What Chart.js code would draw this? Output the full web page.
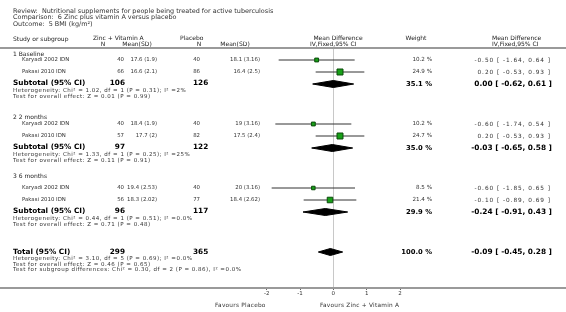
<!DOCTYPE html>
<html><head><meta charset="utf-8">
<script src="https://cdn.jsdelivr.net/npm/chart.js@4.4.1/dist/chart.umd.min.js"></script>
<style>html,body{margin:0;padding:0;background:#fff;}#wrap{width:566px;height:312px;position:relative;}</style>
</head><body><div id="wrap"><canvas id="c" width="566" height="312"></canvas></div>
<script>
// ---------------- DATA ----------------
const titleLines = ['Review:  Nutritional supplements for people being treated for active tuberculosis',
  'Comparison:  6 Zinc plus vitamin A versus placebo', 'Outcome:  5 BMI (kg/m²)'];
const groups = ['1 Baseline', '2 2 months', '3 6 months'];
const studies = ['Karyadi 2002 IDN', 'Pakasi 2010 IDN'];
const zincN = [[40, 66], [40, 57], [40, 56]];
const zincMeanSD = [['17.6 (1.9)', '16.6 (2.1)'], ['18.4 (1.9)', '17.7 (2)'], ['19.4 (2.53)', '18.3 (2.02)']];
const placeboN = [[40, 86], [40, 82], [40, 77]];
const placeboMeanSD = [['18.1 (3.16)', '16.4 (2.5)'], ['19 (3.16)', '17.5 (2.4)'], ['20 (3.16)', '18.4 (2.62)']];
const studyMD = [[-0.50, 0.20], [-0.60, 0.20], [-0.60, -0.10]];
const studyLo = [[-1.64, -0.53], [-1.74, -0.53], [-1.85, -0.89]];
const studyHi = [[0.64, 0.93], [0.54, 0.93], [0.65, 0.69]];
const studyWeight = [[10.2, 24.9], [10.2, 24.7], [8.5, 21.4]];
const subN = [[106, 126], [97, 122], [96, 117]];
const subMD = [0.00, -0.03, -0.24];
const subLo = [-0.62, -0.65, -0.91];
const subHi = [0.61, 0.58, 0.43];
const subWeight = [35.1, 35.0, 29.9];
const subHet = ['Heterogeneity: Chi² = 1.02, df = 1 (P = 0.31); I² =2%',
  'Heterogeneity: Chi² = 1.33, df = 1 (P = 0.25); I² =25%',
  'Heterogeneity: Chi² = 0.44, df = 1 (P = 0.51); I² =0.0%'];
const subTest = ['Test for overall effect: Z = 0.01 (P = 0.99)',
  'Test for overall effect: Z = 0.11 (P = 0.91)',
  'Test for overall effect: Z = 0.71 (P = 0.48)'];
const totalN = [299, 365];
const totalMD = -0.09, totalLo = -0.45, totalHi = 0.28, totalWeight = 100.0;
const totalNotes = ['Heterogeneity: Chi² = 3.10, df = 5 (P = 0.69); I² =0.0%',
  'Test for overall effect: Z = 0.46 (P = 0.65)',
  'Test for subgroup differences: Chi² = 0.30, df = 2 (P = 0.86), I² =0.0%'];
const xTicks = [-2, -1, 0, 1, 2];
const favoursLeft = 'Favours Placebo', favoursRight = 'Favours Zinc + Vitamin A';

// ---------------- LAYOUT (row units, 1 row = 12px) ----------------
const ROW_PX = 12, GROUP_GAP = 40 / ROW_PX, FIRST_ROW = 1;
const GROUP_LABEL_DY = [-6, -6.5, -12];
const rowsStudy = [], rowsSub = [];
let r = FIRST_ROW;
groups.forEach((g, gi) => {
  rowsStudy.push(studies.map((s, si) => r + si));
  rowsSub.push(r + studies.length);
  r = r + studies.length + GROUP_GAP;
});
const rowTotal = r;
const DIAMOND_H = 3.5 / ROW_PX;

const fmt = v => v.toFixed(2);
const ciText = (m, l, h) => `${fmt(m)} [ ${fmt(l)}, ${fmt(h)} ]`;

// ---------------- DATASETS ----------------
const datasets = [];
groups.forEach((g, gi) => {
  studies.forEach((s, si) => {
    datasets.push({ type: 'line', data: [{ x: studyLo[gi][si], y: rowsStudy[gi][si] }, { x: studyHi[gi][si], y: rowsStudy[gi][si] }],
      borderColor: '#333', borderWidth: 1, pointRadius: 0, fill: false, order: 2 });
  });
});
const sqPts = [], sqR = [];
groups.forEach((g, gi) => studies.forEach((s, si) => {
  sqPts.push({ x: studyMD[gi][si], y: rowsStudy[gi][si] });
  sqR.push(0.85 * Math.sqrt(studyWeight[gi][si]));
}));
datasets.push({ type: 'scatter', data: sqPts, pointStyle: 'rect', pointRadius: sqR, pointHoverRadius: sqR,
  backgroundColor: '#17a017', borderColor: '#0b4a0b', borderWidth: 1, order: 1 });
function diamond(m, l, h, y) {
  return { type: 'line', data: [{ x: l, y: y }, { x: m, y: y - DIAMOND_H }, { x: h, y: y }, { x: m, y: y + DIAMOND_H }, { x: l, y: y }],
    borderColor: '#000', borderWidth: 1, backgroundColor: '#000', fill: 'shape', pointRadius: 0, tension: 0, order: 1 };
}
groups.forEach((g, gi) => datasets.push(diamond(subMD[gi], subLo[gi], subHi[gi], rowsSub[gi])));
datasets.push(diamond(totalMD, totalLo, totalHi, rowTotal));

// ---------------- TEXT PLUGIN ----------------
const FONT = '"DejaVu Sans", Verdana, sans-serif';
const textPlugin = {
  id: 'forestText',
  beforeDatasetsDraw(chart) {
    const ctx = chart.ctx, ca = chart.chartArea;
    ctx.save();
    ctx.strokeStyle = '#9a9a9a'; ctx.lineWidth = 2;
    ctx.beginPath(); ctx.moveTo(0, ca.top); ctx.lineTo(chart.width, ca.top);
    ctx.moveTo(0, ca.bottom); ctx.lineTo(chart.width, ca.bottom); ctx.stroke();
    ctx.restore();
  },
  afterDraw(chart) {
    const ctx = chart.ctx, ys = chart.scales.y, xs = chart.scales.x;
    const Y = v => ys.getPixelForValue(v);
    ctx.save();
    ctx.textBaseline = 'middle';
    const t = (s, x, y, size, align, bold, color, ls) => {
      ctx.font = (bold ? 'bold ' : '') + size + 'px ' + FONT;
      ctx.textAlign = align || 'left';
      ctx.fillStyle = color || '#222';
      ctx.letterSpacing = (ls || 0) + 'px';
      ctx.fillText(s, x, y);
    };
    // title
    titleLines.forEach((s, i) => t(s, 13, 11 + i * 6.5, 6.45, 'left', false, '#333'));
    // header
    t('Study or subgroup', 13, 39, 6, 'left');
    t('Zinc + Vitamin A', 93, 38.5, 6, 'left');
    t('N', 103, 44.5, 6, 'center');
    t('Mean(SD)', 137, 44.5, 6, 'center');
    t('Placebo', 180, 38.5, 6, 'left');
    t('N', 199, 44.5, 6, 'center');
    t('Mean(SD)', 235, 44.5, 6, 'center');
    t('Mean Difference', 338, 38.5, 6, 'center');
    t('IV,Fixed,95% CI', 310, 44.5, 6, 'left');
    t('Weight', 416, 38.5, 6, 'center');
    t('Mean Difference', 492, 38.5, 6, 'left');
    t('IV,Fixed,95% CI', 492, 44.5, 6, 'left');
    // groups
    groups.forEach((g, gi) => {
      t(g, 13, Y(rowsStudy[gi][0]) + GROUP_LABEL_DY[gi], 6, 'left');
      studies.forEach((s, si) => {
        const y = Y(rowsStudy[gi][si]);
        t(s, 22, y, 5.4, 'left', false, '#333');
        t(String(zincN[gi][si]), 124, y, 5.4, 'right', false, '#333');
        t(zincMeanSD[gi][si], 157, y, 5.4, 'right', false, '#333');
        t(String(placeboN[gi][si]), 200, y, 5.4, 'right', false, '#333');
        t(placeboMeanSD[gi][si], 260, y, 5.4, 'right', false, '#333');
        t(studyWeight[gi][si].toFixed(1) + ' %', 432, y, 5.6, 'right', false, '#333');
        t(ciText(studyMD[gi][si], studyLo[gi][si], studyHi[gi][si]), 551, y, 5.8, 'right', false, '#333', 0.95);
      });
      const ys2 = Y(rowsSub[gi]);
      t('Subtotal (95% CI)', 13, ys2 - 0.5, 7.3, 'left', true, '#000');
      t(String(subN[gi][0]), 125, ys2 - 0.5, 7.3, 'right', true, '#000');
      t(String(subN[gi][1]), 193, ys2 - 0.5, 7.3, 'left', true, '#000');
      t(subHet[gi], 13, ys2 + 7, 5.5, 'left', false, '#333', 0.5);
      t(subTest[gi], 13, ys2 + 12.5, 5.5, 'left', false, '#333', 0.5);
      t(subWeight[gi].toFixed(1) + ' %', 432, ys2, 6.8, 'right', true, '#000');
      t(ciText(subMD[gi], subLo[gi], subHi[gi]), 552, ys2, 7.4, 'right', true, '#000');
    });
    const yt = Y(rowTotal);
    t('Total (95% CI)', 13, yt, 7.3, 'left', true, '#000');
    t(String(totalN[0]), 125, yt, 7.3, 'right', true, '#000');
    t(String(totalN[1]), 193, yt, 7.3, 'left', true, '#000');
    totalNotes.forEach((s, i) => t(s, 13, yt + 7 + i * 5.3, 5.5, 'left', false, '#333', 0.5));
    t(totalWeight.toFixed(1) + ' %', 432, yt, 6.8, 'right', true, '#000');
    t(ciText(totalMD, totalLo, totalHi), 552, yt, 7.4, 'right', true, '#000');
    // favours
    t(favoursLeft, xs.getPixelForValue(-2) - 1, 305, 5.8, 'right', false, '#333', 0.25);
    t(favoursRight, xs.getPixelForValue(-0.4), 305, 5.8, 'left', false, '#333', 0.25);
    ctx.restore();
  }
};

new Chart(document.getElementById('c'), {
  type: 'scatter',
  data: { datasets },
  options: {
    responsive: false, animation: false, devicePixelRatio: 1,
    layout: { padding: { left: 266.67, right: 166, top: 48, bottom: 0 } },
    plugins: { legend: { display: false }, tooltip: { enabled: false } },
    scales: {
      x: { type: 'linear', min: -2, max: 2, afterBuildTicks: s => { s.ticks = xTicks.map(v => ({ value: v })); },
        afterFit: s => { s.height = 24; },
        border: { display: false },
        grid: { color: c => (c.tick && c.tick.value === 0) ? '#c8c8c8' : 'rgba(0,0,0,0)', tickColor: '#666', tickLength: 2, drawTicks: true },
        ticks: { font: { size: 5.5, family: FONT }, color: '#333', padding: 0, maxRotation: 0, callback: v => String(v) } },
      y: { type: 'linear', display: false, min: 0, max: 20, reverse: true }
    }
  },
  plugins: [textPlugin]
});
</script></body></html>
